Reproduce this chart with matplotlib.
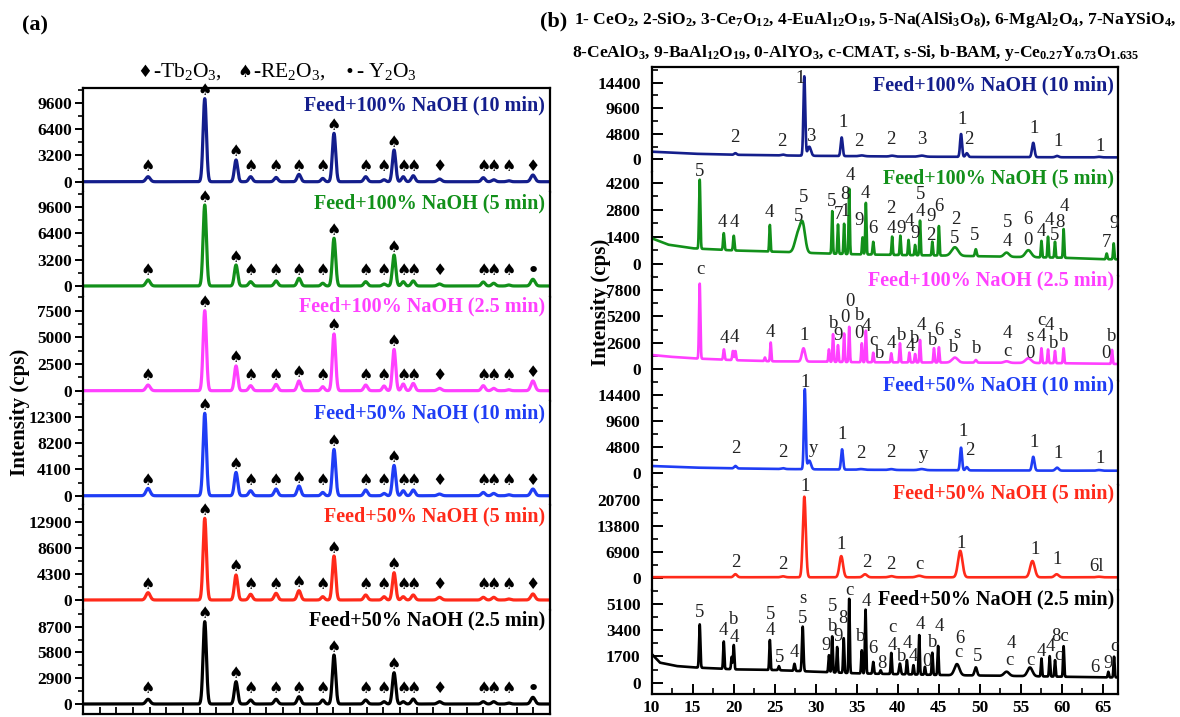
import numpy as np
import matplotlib
matplotlib.use("Agg")
import matplotlib.pyplot as plt
from matplotlib.ticker import MultipleLocator

plt.rcParams["font.family"] = ["Liberation Serif", "DejaVu Sans"]
plt.rcParams["mathtext.default"] = "regular"

W, H, DPI = 1180, 717, 100

# ---------------------------------------------------------------- panel (a)
A_NAMES = ["Feed+100% NaOH (10 min)", "Feed+100% NaOH (5 min)",
           "Feed+100% NaOH (2.5 min)", "Feed+50% NaOH (10 min)",
           "Feed+50% NaOH (5 min)", "Feed+50% NaOH (2.5 min)"]
COLORS = ["#141e8c", "#12901a", "#ff40ff", "#1f3df5", "#ff2a1a", "#000000"]

A_PEAK_POS = [16.8, 23.6, 27.35, 29.1, 32.15, 34.9, 37.75, 39.1, 42.9,
              45.1, 46.3, 47.4, 48.6, 51.75, 57.0, 58.25, 60.05, 62.95]
A_PEAK_SIGMA = [0.25, 0.2, 0.2, 0.22, 0.22, 0.22, 0.2, 0.2, 0.22,
                0.2, 0.2, 0.2, 0.22, 0.25, 0.22, 0.22, 0.22, 0.25]
A_SYMBOLS = ["♠"] * 13 + ["♦"] + ["♠"] * 3
A_LAST_SYMBOL = ["♦", "•", "♦", "♦", "♦", "•"]

A_H_100_10 = [610, 10090, 2640, 610, 520, 890, 400, 5880, 610, 240, 3850, 610, 730, 330, 490, 240, 120, 810]
A_H_100_5 = [730, 9810, 2540, 520, 610, 930, 330, 5780, 520, 240, 3750, 520, 610, 240, 480, 330, 120, 810]
A_H_100_25 = [530, 7500, 2320, 470, 590, 910, 375, 5320, 530, 440, 3870, 630, 680, 220, 470, 220, 90, 910]
A_H_50_10 = [1140, 12830, 3630, 780, 1040, 1510, 510, 7210, 890, 360, 4720, 780, 890, 260, 510, 360, 155, 1040]
A_H_50_5 = [1200, 13460, 4120, 940, 1100, 1530, 540, 7250, 820, 540, 4500, 540, 820, 440, 440, 440, 165, 990]
A_H_50_25 = [530, 9260, 2510, 450, 530, 820, 450, 5510, 450, 260, 3520, 260, 560, 260, 260, 260, 110, 750]
A_HEIGHTS = [A_H_100_10, A_H_100_5, A_H_100_25, A_H_50_10, A_H_50_5, A_H_50_25]

A_YTICK = [3200, 3200, 2500, 4100, 4300, 2900]
A_YLIM = [(-1290, 11385), (-1296, 11347), (-966, 8812),
          (-1495, 14745), (-1599, 15606), (-1125, 10609)]
A_TITLE_Y = [0.835, 0.895, 0.904, 0.882, 0.89, 0.90]

# ---------------------------------------------------------------- panel (b)
B_NAMES = A_NAMES
B_YTICK = [4800, 1400, 2600, 4800, 6900, 1700]
B_YLIM = [(-2341, 17296), (-630, 4766), (-1117, 9161),
          (-2298, 17057), (-2974, 24642), (-732, 6036)]
B_TITLE_Y = [0.83, 0.937, 0.962, 0.958, 0.921, 0.907]

# background anchors (2theta, cps)
B_BG_100_10 = [(10, 1430), (15, 1050), (20, 850), (25, 750), (30, 650), (40, 520), (50, 430), (60, 380), (67, 360)]
B_BG_100_5 = [(10, 1330), (12, 1000), (15, 810), (20, 700), (25, 635), (30, 560), (35, 500), (40, 465),
              (45, 440), (50, 400), (55, 360), (60, 325), (65, 245), (67, 240)]
B_BG_100_25 = [(10, 1410), (12, 1250), (15, 1080), (20, 900), (25, 780), (30, 755), (35, 700), (40, 680),
               (50, 655), (60, 600), (67, 520)]
B_BG_50_10 = [(10, 1240), (15, 950), (20, 800), (25, 700), (30, 620), (40, 500), (50, 420), (60, 380), (67, 370)]
B_BG_50_5 = [(10, 300), (30, 265), (67, 265)]
B_BG_50_25 = [(10, 1860), (11, 1300), (13, 1080), (15, 995), (20, 865), (25, 820), (30, 710), (35, 605),
              (45, 500), (55, 430), (65, 345), (67, 340)]

# reflections (2theta, height above background, width)
B_PK_100_10 = [(20.2, 300, 0.15), (26.0, 150, 0.2), (28.6, 14900, 0.11), (29.2, 1700, 0.2),
               (33.15, 3500, 0.12), (35.6, 150, 0.3), (39.3, 150, 0.25), (42.9, 200, 0.35),
               (47.7, 4300, 0.12), (48.4, 700, 0.15), (56.5, 2700, 0.15), (59.4, 250, 0.2), (64.5, 100, 0.25)]
B_PK_100_5 = [(15.85, 3565, 0.08), (18.78, 865, 0.08), (20.0, 760, 0.08), (24.4, 1375, 0.07),
              (27.8, 900, 0.35), (28.4, 1400, 0.3), (32.0, 2195, 0.07), (32.7, 1515, 0.07),
              (33.45, 1560, 0.07), (34.07, 3380, 0.07), (35.7, 880, 0.07), (36.1, 2665, 0.07),
              (37.0, 660, 0.08), (39.3, 945, 0.07), (40.3, 1000, 0.07), (41.3, 785, 0.07),
              (42.1, 530, 0.07), (42.7, 1790, 0.07), (44.2, 710, 0.07), (45.0, 1520, 0.07),
              (46.95, 440, 0.4), (49.5, 360, 0.1), (53.25, 215, 0.3), (55.9, 360, 0.35),
              (57.5, 850, 0.07), (58.3, 1075, 0.07), (59.15, 820, 0.07), (60.2, 1485, 0.07),
              (65.45, 300, 0.08), (66.3, 825, 0.07)]
B_PK_100_25 = [(15.85, 7380, 0.08), (18.8, 1020, 0.08), (19.9, 900, 0.08), (20.2, 900, 0.08),
               (23.8, 350, 0.07), (24.5, 1845, 0.07), (28.5, 1305, 0.2), (31.6, 1220, 0.07),
               (32.1, 2725, 0.07), (32.7, 1650, 0.07), (33.45, 2805, 0.07), (34.07, 3470, 0.07),
               (35.6, 1860, 0.07), (36.1, 3105, 0.07), (37.0, 940, 0.07), (39.2, 895, 0.07),
               (40.25, 1880, 0.07), (41.4, 965, 0.07), (42.1, 830, 0.07), (42.7, 2215, 0.07),
               (44.4, 1405, 0.07), (45.0, 1500, 0.07), (46.95, 490, 0.35), (49.5, 260, 0.12),
               (53.25, 150, 0.3), (55.9, 460, 0.35), (57.5, 1455, 0.07), (58.3, 1345, 0.07),
               (59.15, 1200, 0.07), (60.2, 1465, 0.07), (66.1, 1375, 0.07)]
B_PK_50_10 = [(20.2, 450, 0.15), (26.0, 150, 0.2), (28.66, 14800, 0.11), (29.2, 1600, 0.2),
              (33.2, 3750, 0.12), (35.5, 120, 0.3), (39.2, 150, 0.3), (42.9, 200, 0.35),
              (47.7, 4200, 0.12), (48.4, 600, 0.15), (56.5, 2550, 0.15), (59.4, 550, 0.2), (64.5, 120, 0.25)]
B_PK_50_5 = [(20.2, 800, 0.2), (26.0, 250, 0.25), (28.6, 21300, 0.18), (33.1, 5600, 0.22),
             (36.0, 800, 0.25), (39.2, 300, 0.3), (42.6, 400, 0.35), (47.6, 7000, 0.27),
             (56.4, 4300, 0.28), (59.35, 800, 0.25), (64.5, 150, 0.3)]
B_PK_50_25 = [(15.85, 2805, 0.08), (18.78, 1775, 0.07), (19.75, 800, 0.07), (20.0, 1575, 0.07),
              (24.4, 1940, 0.07), (25.5, 265, 0.08), (27.4, 460, 0.08), (28.4, 2890, 0.09),
              (31.6, 1105, 0.07), (32.0, 2335, 0.07), (32.6, 1655, 0.07), (33.4, 2245, 0.07),
              (34.07, 4815, 0.07), (35.6, 1500, 0.07), (36.06, 4140, 0.07), (37.0, 760, 0.08),
              (37.9, 230, 0.08), (39.2, 1370, 0.07), (40.25, 690, 0.1), (41.1, 920, 0.07),
              (41.9, 605, 0.07), (42.6, 2560, 0.07), (43.3, 510, 0.07), (44.2, 1435, 0.07),
              (44.9, 1880, 0.07), (47.2, 720, 0.3), (49.5, 525, 0.15), (53.25, 270, 0.3),
              (56.1, 565, 0.3), (57.5, 1160, 0.07), (58.5, 1320, 0.07), (59.15, 1065, 0.07),
              (60.2, 1980, 0.07), (65.65, 365, 0.07), (66.35, 1345, 0.07)]

# phase labels (2theta, text, cps)
B_LB_100_10 = [(20.1, "2", 4136), (25.8, "2", 3440), (28.05, "1", 15230), (29.35, "3", 4250),
               (33.3, "1", 6880), (35.3, "2", 3310), (39.15, "2", 3630), (42.97, "3", 3630),
               (47.77, "1", 7390), (48.7, "2", 3760), (56.6, "1", 5830), (59.5, "1", 3310),
               (64.6, "1", 2370)]
B_LB_100_5 = [(15.85, "5", 4804), (18.6, "4", 2134), (20.1, "4", 2134), (24.3, "4", 2650),
              (27.85, "5", 2443), (28.45, "5", 3446), (31.9, "5", 3218), (32.7, "7", 2583),
              (33.5, "8", 3616), (33.6, "1", 2702), (34.2, "4", 4598), (36.0, "4", 3652),
              (35.3, "9", 2273), (37.0, "6", 1844), (39.2, "2", 2877), (39.2, "4", 1844),
              (40.45, "9", 1844), (41.4, "4", 2185), (42.1, "9", 1586), (42.8, "5", 3565),
              (42.7, "4", 2702), (44.1, "9", 2443), (45.0, "6", 2960), (44.0, "2", 1498),
              (47.1, "2", 2309), (46.95, "5", 1328), (49.4, "5", 1498), (53.4, "5", 2154),
              (53.4, "4", 1188), (55.9, "6", 2309), (55.9, "0", 1240), (57.5, "4", 1669),
              (58.5, "4", 2273), (59.8, "8", 2154), (59.15, "5", 1462), (60.25, "4", 2960),
              (66.3, "9", 2103), (65.45, "7", 1100)]
B_LB_100_25 = [(15.9, "c", 9840), (18.8, "4", 3050), (20.1, "4", 3150), (24.4, "4", 3600),
               (28.6, "1", 3277), (32.2, "b", 4526), (32.7, "9", 3277), (33.5, "0", 5117),
               (34.15, "0", 6652), (35.4, "b", 5343), (35.3, "0", 3474), (36.2, "4", 4192),
               (37.05, "c", 2883), (37.8, "b", 1574), (39.2, "4", 2558), (40.5, "b", 3375),
               (41.5, "4", 2224), (42.1, "b", 3050), (42.8, "4", 4359), (44.2, "b", 2883),
               (45.0, "6", 3867), (47.2, "s", 3542), (46.8, "b", 2165), (49.6, "b", 2066),
               (53.4, "4", 3542), (53.4, "c", 1732), (56.1, "s", 3208), (56.1, "0", 1574),
               (57.5, "c", 4782), (58.5, "4", 4359), (57.5, "4", 3208), (58.95, "b", 2558),
               (60.25, "b", 3208), (66.1, "b", 3208), (65.4, "0", 1574)]
B_LB_50_10 = [(20.3, "2", 4521), (26.0, "2", 3706), (28.7, "1", 16677), (29.7, "y", 4521),
              (33.2, "1", 6986), (35.5, "2", 3465), (39.2, "2", 3706), (43.1, "y", 3280),
              (48.0, "1", 7597), (48.8, "2", 4206), (56.6, "1", 5559), (59.5, "1", 3595),
              (64.7, "1", 2668)]
B_LB_50_5 = [(20.3, "2", 4125), (26.0, "2", 3517), (28.7, "1", 24404), (33.1, "1", 9069),
             (36.2, "2", 4125), (39.2, "2", 3517), (42.6, "c", 3781), (47.7, "1", 9254),
             (56.7, "1", 7483), (59.35, "1", 4839), (64.2, "6l", 3252)]
B_LB_50_25 = [(15.85, "5", 4536), (18.7, "4", 3370), (20.0, "b", 4063), (20.1, "4", 2942),
              (24.5, "5", 4387), (24.4, "4", 3370), (25.6, "5", 1646), (27.4, "4", 1944),
              (28.4, "s", 5469), (28.4, "5", 4173), (31.2, "9", 2443), (32.0, "5", 4970),
              (32.1, "b", 3629), (32.7, "9", 3026), (33.3, "8", 4173), (34.05, "c", 5962),
              (35.5, "b", 2981), (36.1, "4", 5294), (37.0, "6", 2197), (38.0, "8", 1257),
              (39.3, "c", 3590), (39.3, "4", 2443), (40.45, "b", 1730), (41.2, "4", 2553),
              (41.9, "4", 1730), (42.7, "4", 3739), (43.5, "0", 1361), (44.2, "b", 2592),
              (45.0, "4", 3629), (47.6, "6", 2877), (47.4, "c", 1944), (49.7, "5", 1730),
              (53.8, "4", 2508), (53.6, "c", 1471), (56.1, "c", 1426), (57.5, "4", 2009),
              (58.6, "4", 2333), (59.6, "c", 1795), (59.8, "8c", 2981), (64.0, "6", 998),
              (65.65, "9", 1257), (66.35, "c", 2333)]

B_BG = [B_BG_100_10, B_BG_100_5, B_BG_100_25, B_BG_50_10, B_BG_50_5, B_BG_50_25]
B_PK = [B_PK_100_10, B_PK_100_5, B_PK_100_25, B_PK_50_10, B_PK_50_5, B_PK_50_25]
B_LB = [B_LB_100_10, B_LB_100_5, B_LB_100_25, B_LB_50_10, B_LB_50_5, B_LB_50_25]

B_LEGEND_1 = ("1- CeO$_2$, 2-SiO$_2$, 3-Ce$_7$O$_{12}$, 4-EuAl$_{12}$O$_{19}$, "
              "5-Na(AlSi$_3$O$_8$), 6-MgAl$_2$O$_4$, 7-NaYSiO$_4$,")
B_LEGEND_2 = ("8-CeAlO$_3$, 9-BaAl$_{12}$O$_{19}$, 0-AlYO$_3$, c-CMAT, s-Si, b-BAM, "
              "y-Ce$_{0.27}$Y$_{0.73}$O$_{1.635}$")


def gauss_sum(x, pos, amp, sig):
    y = np.zeros_like(x)
    for p, a, s in zip(pos, amp, sig):
        y += a * np.exp(-0.5 * ((x - p) / s) ** 2)
    return y


def fx(px):
    return px / W


def fy(py):
    return 1 - py / H


fig = plt.figure(figsize=(W / DPI, H / DPI), dpi=DPI)

TITLE_FS = 14.5
TICK_FS = 12.5


def stacked_axes(left, right, top, bottom, n=6):
    hh = (bottom - top) / n
    axes = []
    for i in range(n):
        t = top + i * hh
        ax = fig.add_axes([fx(left), fy(t + hh), fx(right) - fx(left), hh / H])
        for sp in ax.spines.values():
            sp.set_linewidth(1.6)
        if i > 0:
            ax.spines["top"].set_visible(False)
        if i < n - 1:
            ax.spines["bottom"].set_visible(False)
        axes.append(ax)
    return axes


# ---- panel (a)
xa = np.linspace(9, 65, 6000)
axes_a = stacked_axes(83, 550, 88, 714)
for i, ax in enumerate(axes_a):
    ya = gauss_sum(xa, A_PEAK_POS, A_HEIGHTS[i], A_PEAK_SIGMA)
    ax.plot(xa, ya, color=COLORS[i], lw=2.3, solid_joinstyle="round")
    ax.set_xlim(9, 65)
    ax.set_ylim(*A_YLIM[i])
    ax.set_yticks([0, A_YTICK[i], 2 * A_YTICK[i], 3 * A_YTICK[i]])
    ax.yaxis.set_minor_locator(MultipleLocator(A_YTICK[i] / 2))
    ax.tick_params(axis="y", which="major", direction="out", length=6, width=1.4,
                   labelsize=TICK_FS, pad=2)
    ax.tick_params(axis="y", which="minor", direction="out", length=3.5, width=1.2)
    for lab in ax.get_yticklabels():
        lab.set_fontweight("bold")
    ax.xaxis.set_major_locator(plt.FixedLocator(np.arange(11, 64, 2)))
    ax.tick_params(axis="x", which="both", direction="in", length=5, width=1.3,
                   labelbottom=False, bottom=(i == 5), top=False)
    ax.text(0.989, A_TITLE_Y[i], A_NAMES[i], transform=ax.transAxes, ha="right",
            va="center", fontsize=TITLE_FS, fontweight="bold", color=COLORS[i])
    # phase markers above reflections
    y0, y1 = A_YLIM[i]
    per_px = (y1 - y0) / ((714 - 88) / 6)
    syms = A_SYMBOLS + [A_LAST_SYMBOL[i]]
    for p, s in zip(A_PEAK_POS, syms):
        top = np.interp(p, xa, ya)
        yc = max(top + 8 * per_px, 15 * per_px)
        ax.text(p, yc, s, ha="center", va="center",
                fontsize=(16 if s == "•" else 11.5),
                family="DejaVu Sans", color="black")

fig.text(fx(20), fy(412), "Intensity (cps)", rotation=90, ha="center", va="center",
         fontsize=15, fontweight="bold")
fig.text(fx(22), fy(25), "(a)", ha="left", va="center", fontsize=16, fontweight="bold")

# legend row for panel (a)
LEG_Y = fy(72)
for sx, sym, tx, txt in [(152, "♦", 153, "-Tb$_2$O$_3$,"),
                         (252, "♠", 253, "-RE$_2$O$_3$,"),
                         (354, "•", 356, "- Y$_2$O$_3$")]:
    fig.text(fx(sx), LEG_Y, sym, ha="right", va="center", fontsize=12, family="DejaVu Sans")
    fig.text(fx(tx), LEG_Y, txt, ha="left", va="center", fontsize=15.5)

# ---- panel (b)
xb = np.arange(10, 66.82, 0.004)
axes_b = stacked_axes(651.7, 1118, 67.3, 694)
for i, ax in enumerate(axes_b):
    bgx = [p[0] for p in B_BG[i]]
    bgy = [p[1] for p in B_BG[i]]
    yb = np.interp(xb, bgx, bgy) + gauss_sum(xb, [p[0] for p in B_PK[i]],
                                              [p[1] for p in B_PK[i]],
                                              [p[2] for p in B_PK[i]])
    ax.plot(xb, yb, color=COLORS[i], lw=1.9, solid_joinstyle="round")
    ax.set_xlim(10, 66.83)
    ax.set_ylim(*B_YLIM[i])
    ax.set_yticks([0, B_YTICK[i], 2 * B_YTICK[i], 3 * B_YTICK[i]])
    ax.yaxis.set_minor_locator(MultipleLocator(B_YTICK[i] / 2))
    ax.tick_params(axis="y", which="major", direction="in", length=8, width=1.4,
                   labelsize=TICK_FS, pad=8)
    ax.tick_params(axis="y", which="minor", direction="in", length=4, width=1.2)
    for lab in ax.get_yticklabels():
        lab.set_fontweight("bold")
    ax.xaxis.set_major_locator(MultipleLocator(5))
    ax.xaxis.set_minor_locator(MultipleLocator(2.5))
    ax.tick_params(axis="x", which="major", direction="in", length=7, width=1.4,
                   labelsize=TICK_FS, pad=4, bottom=(i == 5), top=False,
                   labelbottom=(i == 5))
    ax.tick_params(axis="x", which="minor", direction="in", length=4, width=1.2,
                   bottom=(i == 5), top=False)
    if i == 5:
        for lab in ax.get_xticklabels():
            lab.set_fontweight("bold")
    ax.text(0.991, B_TITLE_Y[i], B_NAMES[i], transform=ax.transAxes, ha="right",
            va="center", fontsize=TITLE_FS, fontweight="bold", color=COLORS[i])
    for p, t, yv in B_LB[i]:
        ax.text(p, yv, t, ha="center", va="center", fontsize=13.5, color="#222222")

fig.text(fx(601), fy(302), "Intensity (cps)", rotation=90, ha="center", va="center",
         fontsize=15, fontweight="bold")
fig.text(fx(540), fy(21), "(b)", ha="left", va="center", fontsize=16, fontweight="bold")
fig.text(fx(574), fy(20), B_LEGEND_1, ha="left", va="center", fontsize=12.6,
         fontweight="bold")
fig.text(fx(572), fy(53), B_LEGEND_2, ha="left", va="center", fontsize=12.6,
         fontweight="bold")

fig.savefig("out.png", dpi=DPI, facecolor="white")
